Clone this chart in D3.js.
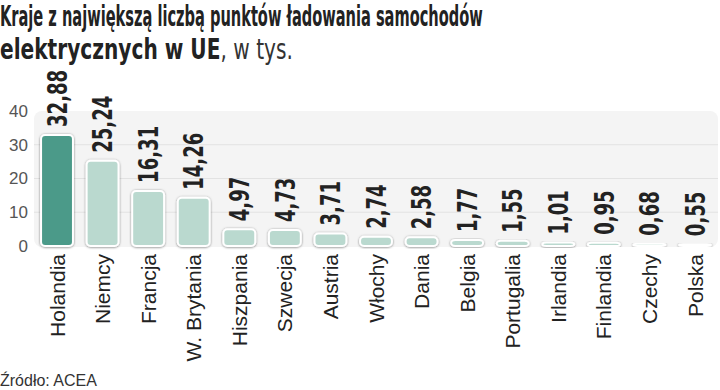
<!DOCTYPE html>
<html><head><meta charset="utf-8">
<script src="https://cdn.jsdelivr.net/npm/d3@7"></script>
<style>
body{margin:0;background:#fff;}
svg{display:block;}
</style></head>
<body>
<svg id="c" width="720" height="390"></svg>
<script>
const categories = ["Holandia","Niemcy","Francja","W. Brytania","Hiszpania","Szwecja","Austria","Włochy","Dania","Belgia","Portugalia","Irlandia","Finlandia","Czechy","Polska"];
const values = [32.88,25.24,16.31,14.26,4.97,4.73,3.71,2.74,2.58,1.77,1.55,1.01,0.95,0.68,0.55];
const yTicks = [0,10,20,30,40];
const titleLine1 = "Kraje z największą liczbą punktów ładowania samochodów";
const titleLine2Bold = "elektrycznych w UE";
const titleLine2Light = ", w tys.";
const source = "Źródło: ACEA";

const svg = d3.select("#c");
const condensed = "'Liberation Sans Narrow','DejaVu Sans Condensed','Roboto Condensed',sans-serif";
const sans = "'Liberation Sans',Arial,sans-serif";

const defs = svg.append("defs");
const f = defs.append("filter").attr("id","sh").attr("x","-30%").attr("y","-30%").attr("width","160%").attr("height","160%");
f.append("feDropShadow").attr("dx",0).attr("dy",0.5).attr("stdDeviation",1.3).attr("flood-color","#000").attr("flood-opacity",0.5);

const x = d3.scaleBand().domain(categories).range([36.5,715.5]).paddingInner(0.3).paddingOuter(0.1);
const y = d3.scaleLinear().domain([0,40]).range([246,111]);

// plot background
svg.append("rect").attr("x",34).attr("y",y(40)).attr("width",684).attr("height",y(0)-y(40)+1)
  .attr("rx",8).attr("fill","#f4f4f4");

// gridlines
svg.append("g").selectAll("line").data(yTicks.filter(t=>t>0 && t<40)).join("line")
  .attr("x1",34).attr("x2",718).attr("y1",d=>y(d)).attr("y2",d=>y(d))
  .attr("stroke","#e2e2e2").attr("stroke-width",1);

// y axis labels
svg.append("g").selectAll("text").data(yTicks).join("text")
  .attr("x",28).attr("y",d=>y(d)).attr("dy","0.35em").attr("text-anchor","end")
  .attr("font-family",sans).attr("font-size",17).attr("fill","#555")
  .text(d=>d);

// bars
svg.append("g").selectAll("rect").data(values).join("rect")
  .attr("x",(d,i)=>x(categories[i])).attr("width",x.bandwidth())
  .attr("y",d=>y(d)).attr("height",d=>y(0)-y(d))
  .attr("rx",4).attr("fill",(d,i)=>i===0?"#4b9a89":"#bad9cf")
  .attr("stroke","#fff").attr("stroke-width",2).attr("filter","url(#sh)");

// value labels
const fmt = d3.format(".2f");
const lab = d=>fmt(d).replace(".",",");
svg.append("g").selectAll("text").data(values).join("text")
  .attr("transform",(d,i)=>`translate(${x(categories[i])+x.bandwidth()/2},${y(d)-8}) rotate(-90)`)
  .attr("dy","0.36em").attr("text-anchor","start")
  .attr("font-family",condensed).attr("font-weight","bold").attr("font-size",27).attr("fill","#222")
  .attr("textLength",d=>{const s=lab(d);return s.replace(/[^0-9]/g,"").length*12.8+6;})
  .attr("lengthAdjust","spacingAndGlyphs")
  .text(lab);

// category labels
svg.append("g").selectAll("text").data(categories).join("text")
  .attr("transform",d=>`translate(${x(d)+x.bandwidth()/2},254) rotate(-90)`)
  .attr("dy","0.36em").attr("text-anchor","end")
  .attr("font-family",sans).attr("font-size",21).attr("fill","#222")
  .text(d=>d);

// title (horizontally compressed to mimic the condensed face)
function fitX(sel, target){
  const w = sel.node().getComputedTextLength();
  sel.attr("transform",`scale(${target/w},1)`);
}
const t1 = svg.append("text").attr("x",0).attr("y",26)
  .attr("font-family",condensed).attr("font-weight","bold").attr("font-size",28).attr("fill","#222")
  .text(titleLine1);
fitX(t1,483);
const t2 = svg.append("text").attr("x",0).attr("y",59)
  .attr("font-family",condensed).attr("font-size",28).attr("fill","#222");
t2.append("tspan").attr("font-weight","bold").text(titleLine2Bold);
t2.append("tspan").attr("font-weight","normal").attr("fill","#333").text(titleLine2Light);
fitX(t2,293);

// source
svg.append("text").attr("x",0).attr("y",386)
  .attr("font-family",sans).attr("font-size",16).attr("fill","#333").text(source);
</script>
</body></html>
